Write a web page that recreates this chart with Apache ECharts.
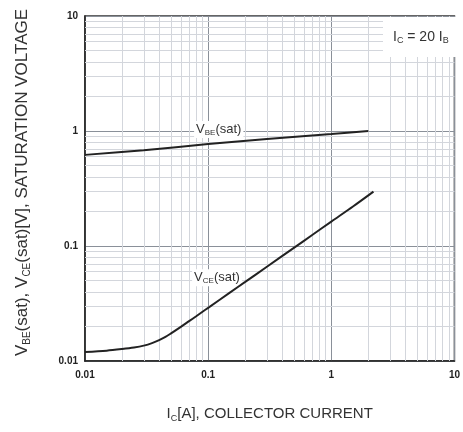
<!DOCTYPE html>
<html>
<head>
<meta charset="utf-8">
<script src="https://cdn.jsdelivr.net/npm/echarts@6/dist/echarts.min.js"></script>
<style>
  html, body { margin: 0; padding: 0; background: #fff; }
  #main { width: 463px; height: 432px; }
</style>
</head>
<body>
<div id="main"></div>
<script>
// IC [A] vs saturation voltage
const icVbe = [0.01, 0.03, 0.1, 0.3, 1, 2];
const vbeSat = [0.62, 0.68, 0.77, 0.85, 0.94, 1.0];

const icVce = [0.01, 0.015, 0.02, 0.025, 0.03, 0.035, 0.04, 0.045, 0.05, 0.06, 0.07, 0.08, 0.09, 0.1, 0.15, 0.2, 0.3, 0.5, 0.7, 1, 1.5, 2.2];
const vceSat = [0.012, 0.0123, 0.0127, 0.0131, 0.0136, 0.0143, 0.0152, 0.0162, 0.0174, 0.0198, 0.0222, 0.0245, 0.0268, 0.029, 0.0393, 0.0487, 0.066, 0.0968, 0.1246, 0.163, 0.2205, 0.297];

const decades = [0.01, 0.1, 1];
const minorSteps = [2, 3, 4, 5, 6, 7, 8, 9];

const FONT = '"Liberation Sans", Arial, sans-serif';

// minor grid lines (2..9 of each decade)
let minorX = [];
let minorY = [];
decades.forEach((d) => {
  minorSteps.forEach((m) => {
    minorX.push({ xAxis: +(m * d).toPrecision(3) });
    minorY.push({ yAxis: +(m * d).toPrecision(3) });
  });
});

const pairs = (xs, ys) => xs.map((x, i) => [x, ys[i]]);

const chart = echarts.init(document.getElementById('main'));

const option = {
  animation: false,
  backgroundColor: '#fff',
  grid: {
    left: 85,
    top: 16,
    right: 2,
    bottom: 71,
    show: true,
    borderColor: '#333',
    borderWidth: 1.5,
  },
  xAxis: {
    type: 'log',
    logBase: 10,
    min: 0.01,
    max: 10,
    name: '{m|I}{s|C}{m|[A], COLLECTOR CURRENT}',
    nameLocation: 'middle',
    nameGap: 44,
    nameTextStyle: {
      rich: {
        m: { fontFamily: FONT, fontSize: 15, color: '#333', lineHeight: 18 },
        s: { fontFamily: FONT, fontSize: 9, color: '#333', verticalAlign: 'bottom', lineHeight: 12, padding: [6, 0, 0, 0] },
      },
    },
    axisLine: { show: true, lineStyle: { color: '#222', width: 1.5 } },
    axisTick: { show: false },
    axisLabel: { fontFamily: FONT, fontSize: 10, fontWeight: 'bold', color: '#222', margin: 9 },
    splitLine: { show: true, lineStyle: { color: '#8a9099', width: 1 } },
  },
  yAxis: {
    type: 'log',
    logBase: 10,
    min: 0.01,
    max: 10,
    name: '{m|V}{s|BE}{m|(sat), V}{s|CE}{m|(sat)[V], SATURATION VOLTAGE}',
    nameLocation: 'middle',
    nameRotate: 90,
    nameGap: 53,
    nameTextStyle: {
      padding: [0, 0, 0, 12],
      rich: {
        m: { fontFamily: FONT, fontSize: 17, color: '#333', lineHeight: 20 },
        s: { fontFamily: FONT, fontSize: 10, color: '#333', verticalAlign: 'bottom', lineHeight: 13, padding: [7, 0, 0, 0] },
      },
    },
    axisLine: { show: true, lineStyle: { color: '#222', width: 1.5 } },
    axisTick: { show: false },
    axisLabel: { fontFamily: FONT, fontSize: 10, fontWeight: 'bold', color: '#222', margin: 7 },
    splitLine: { show: true, lineStyle: { color: '#8a9099', width: 1 } },
  },
  series: [
    {
      // minor grid
      type: 'line',
      data: [],
      z: -1,
      silent: true,
      markLine: {
        silent: true,
        symbol: 'none',
        label: { show: false },
        lineStyle: { color: '#d3d6dc', width: 1, type: 'solid' },
        data: minorX.concat(minorY),
      },
    },
    {
      name: 'VBE(sat)',
      type: 'line',
      data: pairs(icVbe, vbeSat),
      z: 10,
      smooth: 0.3,
      showSymbol: false,
      lineStyle: { color: '#222', width: 2, type: 'solid' },
      markPoint: {
        symbol: 'circle',
        symbolSize: 0,
        data: [{ coord: [0.122, 1.03] }],
        label: {
          show: true,
          position: 'inside',
          backgroundColor: '#fff',
          padding: [1, 2, 1, 2],
          formatter: '{m|V}{s|BE}{m|(sat)}',
          rich: {
            m: { fontFamily: FONT, fontSize: 13, color: '#333', lineHeight: 15 },
            s: { fontFamily: FONT, fontSize: 8, color: '#333', verticalAlign: 'bottom', lineHeight: 10, padding: [5, 0, 0, 0] },
          },
        },
      },
    },
    {
      name: 'VCE(sat)',
      type: 'line',
      data: pairs(icVce, vceSat),
      z: 10,
      smooth: 0.3,
      showSymbol: false,
      lineStyle: { color: '#222', width: 2, type: 'solid' },
      markPoint: {
        symbol: 'circle',
        symbolSize: 0,
        data: [{ coord: [0.118, 0.053] }],
        label: {
          show: true,
          position: 'inside',
          backgroundColor: '#fff',
          padding: [1, 2, 1, 2],
          formatter: '{m|V}{s|CE}{m|(sat)}',
          rich: {
            m: { fontFamily: FONT, fontSize: 13, color: '#333', lineHeight: 15 },
            s: { fontFamily: FONT, fontSize: 8, color: '#333', verticalAlign: 'bottom', lineHeight: 10, padding: [5, 0, 0, 0] },
          },
        },
      },
    },
  ],
  graphic: [
    {
      type: 'rect',
      z: 100,
      shape: { x: 383, y: 17, width: 77, height: 40 },
      style: { fill: '#fff' },
    },
    {
      type: 'text',
      z: 101,
      left: 393,
      top: 30,
      style: {
        text: '{m|I}{s|C}{m| = 20 I}{s|B}',
        rich: {
          m: { fontFamily: FONT, fontSize: 14, fill: '#333', lineHeight: 16 },
          s: { fontFamily: FONT, fontSize: 9, fill: '#333', verticalAlign: 'bottom', lineHeight: 11, padding: [5, 0, 0, 0] },
        },
      },
    },
  ],
};

chart.setOption(option);
</script>
</body>
</html>
